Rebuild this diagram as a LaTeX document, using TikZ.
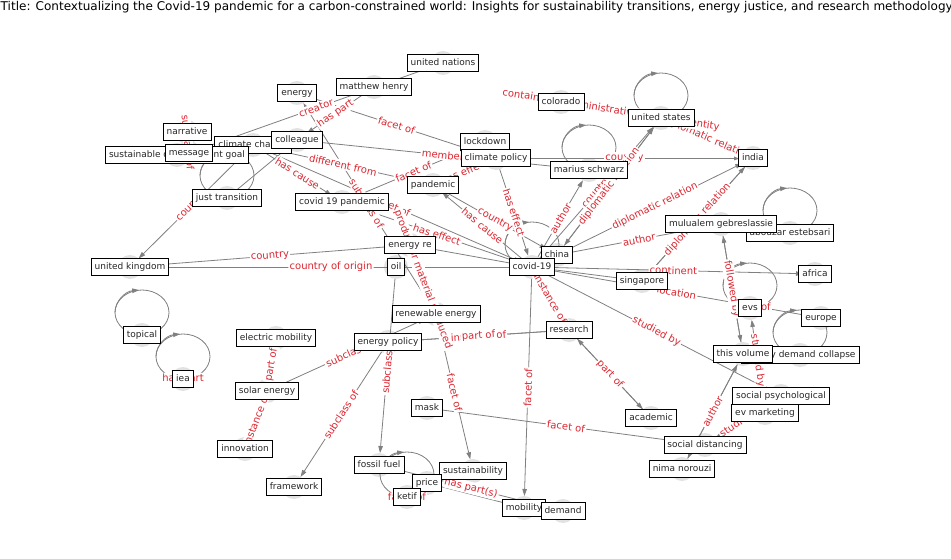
\documentclass[tikz,border=0pt]{standalone}
\usepackage{fontspec}
\setmainfont{DejaVu Sans}
\usepackage{graphicx}
\usetikzlibrary{arrows.meta,calc}
\definecolor{egray}{RGB}{128,128,128}
\definecolor{ered}{RGB}{220,38,48}
\definecolor{ndotc}{RGB}{226,226,226}
\def\LabeledEdges{%
covid/us/0.5/country,
msg/un/0.5/creator,
mh/coll/0.5/has part,
energy/cp/0.5/facet of,
renew/energy/0.5/subclass of,
cc/pand/0.5/different from,
cc/c19p/0.5/has cause,
cc/covid/0.5/facet of,
cc/uk/0.5/country,
coll/ms/0.5/member,
lock/c19p/0.5/facet of,
pand/cp/0.5/has effect,
c19p/covid/0.5/has effect,
cp/covid/0.5/has effect,
covid/pand/0.5/has cause,
pand/china/0.5/country,
cp/india/0.5/country,
covid/ms/0.5/author,
china/us/0.5/diplomatic relation,
us/india/0.5/diplomatic relation,
china/india/0.5/diplomatic relation,
china/mulu/0.5/author,
sing/india/0.5/diplomatic relation,
us/colo/0.5/contains the administrative territorial entity,
covid/africa/0.5/continent,
covid/europe/0.5/location,
covid/socpsy/0.5/studied by,
covid/research/0.5/instance of,
covid/mob/0.5/facet of,
covid/uk/0.5/country of origin,
ere/uk/0.5/country,
ere/renew/0.5/product or material produced,
oil/fossil/0.5/subclass of,
solar/renew/0.5/subclass of,
emob/solar/0.5/part of,
solar/innov/0.5/instance of,
epol/frame/0.5/subclass of,
research/epol/0.5/instance of,
epol/research/0.5/part of,
research/acad/0.5/part of,
renew/sust/0.5/facet of,
mask/socdist/0.5/facet of,
fossil/demand/0.5/has part(s),
thisvol/mulu/0.44/follows,
mulu/thisvol/0.5/followed by,
nima/thisvol/0.5/author,
evmkt/evs/0.5/studied by,
socpsy/socdist/0.5/studied by,
narr/msg/0.5/subclass of}
\begin{document}
\begin{tikzpicture}[x=1pt,y=-1pt,
  ndot/.style={circle,fill=ndotc,minimum size=24pt,inner sep=0pt,outer sep=0pt},
  nlab/.style={draw=black,fill=white,line width=0.8pt,inner xsep=3.5pt,inner ysep=3.8pt,
    text=black!85,font=\fontsize{9}{10}\selectfont,text height=6.8pt,text depth=1.9pt},
  elab/.style={fill=white,text=ered,inner sep=1.2pt,rounded corners=2pt,
    font=\fontsize{10}{12}\selectfont},
  conn/.style={draw=egray,line width=0.8pt,-{Triangle[length=7pt,width=4.5pt]}},
  loopl/.style={draw=egray,line width=0.8pt}]
\useasboundingbox (0,0) rectangle (951,559);
\fill[white] (0,0) rectangle (951,559);
% title
\node[anchor=base west,inner sep=0pt] (title) at (0.5,11)
  {\resizebox{952pt}{!}{Title: Contextualizing the Covid-19 pandemic for a carbon-constrained world: Insights for sustainability transitions, energy justice, and research methodology}};
% node circles
\foreach \n/\x/\y in {un/443/63, mh/374/87, energy/297/93, narr/187/132, cc/253/145,
  coll/297/140, sdg/177/155, msg/189/153, jt/227/198, c19p/342/202, lock/485/142,
  cp/496/158, pand/433/185, colo/561/102, us/661/118, ms/589/170, india/753/158,
  mulu/721/224, abou/790/233, ere/410/245, uk/130/267, oil/396/267, covid/532/267,
  china/557/255, sing/642/281, africa/815/274, topical/142/335, iea/183/379,
  emob/276/338, renew/436/314, epol/388/342, research/569/330, evs/750/308,
  europe/821/318, thisvol/743/354, edc/800/355, socpsy/781/396, evmkt/765/413,
  acad/651/418, socdist/705/445, nima/682/469, mask/427/408, solar/267/391,
  innov/245/449, frame/294/487, fossil/379/465, sust/473/471, price/427/483,
  ketif/407/497, mob/524/508, demand/563/511}
  {\node[ndot] (\n) at (\x,\y) {};}
% connectors
\foreach \a/\b/\p/\l in \LabeledEdges {\draw[conn] (\a) -- (\b);}
\foreach \a/\b in {us/china, india/sing, covid/sing, ere/covid, price/mob,
  acad/research, thisvol/nima, jt/coll}
  {\draw[conn] (\a) -- (\b);}
% self loops
\foreach \n in {topical, iea, us, ms, evs, abou, edc, covid, jt, ketif} {
  \draw[loopl] ($(\n.center)+(0,-22.5)$) ellipse [x radius=27pt, y radius=22.5pt];
  \draw[draw=egray,line width=0.8pt,-{Triangle[length=7pt,width=4.5pt]}]
    ($(\n.center)+(-27,-22.5)$) arc [start angle=180, end angle=96, x radius=27pt, y radius=22.5pt];
}
% connector labels
\foreach \a/\b/\p/\l in \LabeledEdges
  {\path (\a) -- node[elab,pos=\p,sloped] {\l} (\b);}
\node[elab] (iealoop) at (iea) {has part};
\node[elab] (ketifloop) at (ketif) {facet of};
\node[elab] (evsloop) at ($(evs)+(4,0)$) {part of};
% node labels
\foreach \n/\t in {un/united nations, mh/matthew henry, energy/energy, narr/narrative,
  cc/climate change, sdg/sustainable development goal, msg/message, coll/colleague,
  jt/just transition, c19p/covid 19 pandemic, lock/lockdown, cp/climate policy,
  pand/pandemic, colo/colorado, us/united states, ms/marius schwarz, india/india,
  abou/abouzar estebsari, mulu/mulualem gebreslassie, ere/energy re, uk/united kingdom,
  oil/oil, china/china, covid/covid-19, sing/singapore, africa/africa, topical/topical,
  iea/iea, emob/electric mobility, renew/renewable energy, epol/energy policy,
  research/research, evs/evs, europe/europe, edc/energy demand collapse,
  thisvol/this volume, socpsy/social psychological, evmkt/ev marketing,
  acad/academic, socdist/social distancing, nima/nima norouzi, mask/mask,
  solar/solar energy, innov/innovation, frame/framework, fossil/fossil fuel,
  sust/sustainability, price/price, ketif/ketif, mob/mobility, demand/demand}
  {\node[nlab] (L\n) at (\n) {\t};}
\end{tikzpicture}
\end{document}
